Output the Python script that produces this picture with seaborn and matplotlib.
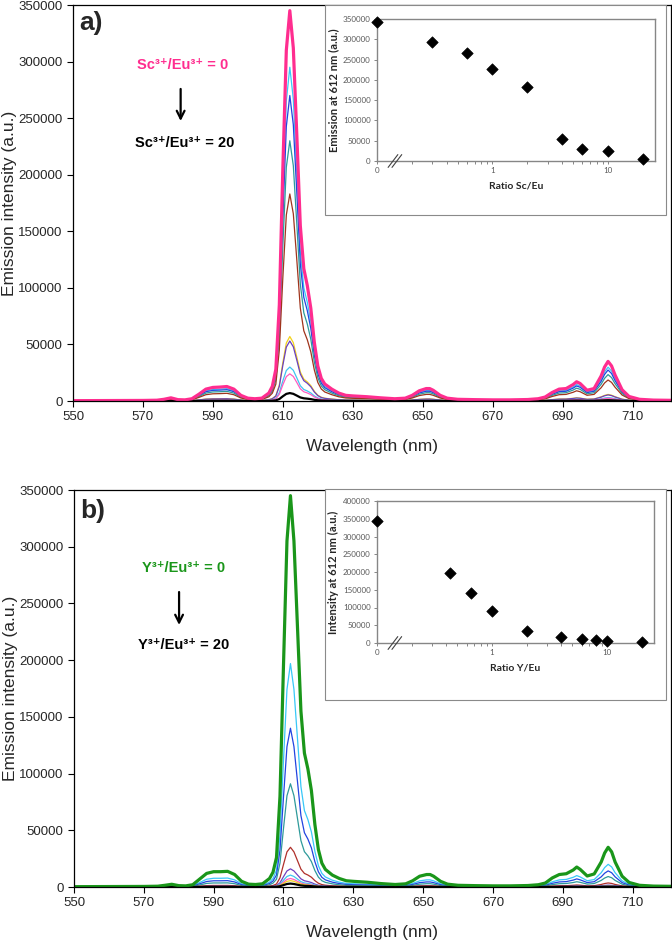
import numpy as np
import matplotlib
matplotlib.use('Agg')
import matplotlib.pyplot as plt
import matplotlib.ticker as mticker
from matplotlib.patches import Rectangle
import seaborn as sns

# wavelength grid (nm) on which the spectra were read
wl = [550, 560, 570, 574, 576, 578, 580, 582, 584, 586, 588, 590, 592, 594, 596, 598,
      600, 602, 604, 606, 607, 608, 609, 610, 611, 612, 613, 614, 615, 616, 617, 618,
      619, 620, 621, 622, 624, 626, 628, 630, 634, 638, 642, 645, 647, 649, 651, 652,
      653, 655, 657, 660, 665, 670, 675, 680, 683, 685, 687, 689, 691, 693, 694, 695,
      697, 699, 701, 702, 703, 704, 705, 707, 709, 712, 716, 721]

# Sc3+/Eu3+ = 0 spectrum (panel a, top curve)
sc_top = [300, 400, 500, 700, 1500, 2800, 1200, 1000, 2000, 6000, 10500, 12000, 12300, 12800, 10500, 5000,
          2500, 2000, 2500, 7000, 13000, 28000, 85000, 205000, 310000, 345000, 312000, 235000, 155000, 117000, 102000, 82000,
          52000, 31000, 20000, 15000, 10500, 7000, 5000, 4500, 3800, 2800, 2000, 2500, 5000, 9000, 11000, 11000,
          9500, 5000, 2500, 1500, 1200, 1000, 1000, 1300, 2000, 3500, 7500, 10500, 11000, 14500, 17000, 15500,
          9500, 11000, 22000, 30000, 35000, 31000, 23000, 10000, 4000, 1500, 800, 600]

# Y3+/Eu3+ = 0 spectrum (panel b, top curve)
y_top = [300, 400, 500, 700, 1500, 2400, 1200, 1000, 2000, 7000, 12000, 13500, 13500, 13800, 11000, 5000,
         2500, 2200, 2800, 7500, 13000, 26000, 80000, 195000, 305000, 345000, 305000, 230000, 155000, 118000, 104000, 85000,
         55000, 33000, 21000, 15500, 10500, 7500, 5500, 5000, 4200, 3000, 2200, 2800, 5500, 9500, 11000, 11000,
         9500, 5000, 2500, 1500, 1200, 1000, 1000, 1300, 2000, 3500, 8000, 11000, 11700, 15000, 17600, 15500,
         9700, 11500, 22000, 30000, 35000, 31000, 22000, 9500, 4000, 1500, 800, 600]

# peak heights at 612 nm of every curve
sc_peaks = [345000, 295000, 270000, 230000, 183000, 57000, 53000, 30000, 24000, 7000]
sc_colors = ['#FF2D8F', '#38C8F8', '#2244E0', '#2E9A9A', '#A0341C', '#F2D21B', '#6A40C0', '#40C4F0', '#FF5CC0', '#000000']
y_peaks = [345000, 197000, 140000, 91000, 35000, 16000, 10500, 7500, 5600, 3000]
y_colors = ['#1A961A', '#38C8F8', '#2244E0', '#2E9A9A', '#B0302A', '#7040C0', '#40C4F0', '#FF5CC0', '#F2D21B', '#000000']

# insets: emission at 612 nm vs ratio (ratio 0 drawn at the 0.1 axis origin)
sc_ratio = [0.1, 0.3, 0.6, 1, 2, 4, 6, 10, 20]
sc_em = [343000, 294000, 265500, 227500, 182400, 53500, 29600, 23900, 5700]
y_ratio = [0.1, 0.43, 0.65, 1, 2, 4, 6, 8, 10, 20]
y_em = [344400, 197600, 140300, 91400, 35000, 16100, 10400, 7600, 5600, 2800]

sns.set_style('ticks')
plt.rcParams['font.family'] = ['Liberation Sans', 'DejaVu Sans']

W, H = 672, 940
fig = plt.figure(figsize=(W / 100, H / 100), dpi=100)


def fx(px):
    return px / W


def fy(py):
    return 1 - py / H


def spectra(ax, top, peaks, colors):
    top = np.array(top, dtype=float)
    order = list(range(1, len(peaks) - 1)) + [len(peaks) - 1, 0]
    for i in order:
        lw = 2.3 if i == 0 else (1.6 if colors[i] == '#000000' else 0.9)
        sns.lineplot(x=wl, y=top * peaks[i] / top.max(), color=colors[i], lw=lw, ax=ax)
    ax.set_xlim(550, 721)
    ax.set_ylim(0, 350000)
    ax.set_xticks(np.arange(550, 711, 20))
    ax.set_yticks(np.arange(0, 350001, 50000))
    ax.yaxis.set_major_formatter(mticker.StrMethodFormatter('{x:.0f}'))
    ax.tick_params(labelsize=9.5, length=4, width=0.8, direction='out', color='black')
    for s in ax.spines.values():
        s.set_color('black')
        s.set_linewidth(0.9)
    ax.set_xlabel('Wavelength (nm)', fontsize=12.5, labelpad=11)
    ax.set_ylabel('Emission intensity (a.u.)', fontsize=12.5, labelpad=1)


def inset(ax, ratio, em, ymax, ylabel, xlabel):
    sns.scatterplot(x=ratio, y=em, marker='D', color='black', s=34, edgecolor='black',
                    ax=ax, clip_on=False, zorder=5)
    ax.set_xscale('log')
    ax.set_xlim(0.1, 25.6)
    ax.set_ylim(0, ymax)
    ax.set_yticks(np.arange(0, ymax + 1, 50000))
    ax.yaxis.set_major_formatter(mticker.StrMethodFormatter('{x:.0f}'))
    ax.xaxis.set_major_locator(mticker.FixedLocator([0.1, 1, 10]))
    ax.xaxis.set_major_formatter(mticker.FixedFormatter(['0', '1', '10']))
    ax.xaxis.set_minor_locator(mticker.LogLocator(base=10, subs=np.arange(2, 10)))
    ax.xaxis.set_minor_formatter(mticker.NullFormatter())
    ax.tick_params(which='both', labelsize=5.8, labelcolor='#595959', color='#868686',
                   length=2.5, width=0.7, direction='out', pad=2)
    for lab in ax.get_xticklabels() + ax.get_yticklabels():
        lab.set_family('Lato')
    for s in ax.spines.values():
        s.set_color('#868686')
        s.set_linewidth(1.0)
    ax.set_ylabel(ylabel, fontsize=8, fontweight='bold', family='Lato', labelpad=3)
    ax.set_xlabel(xlabel, fontsize=7.5, fontweight='bold', family='Lato', labelpad=5)
    # axis break marks
    for dx in (0.0, 0.014):
        ax.plot([0.040 + dx, 0.075 + dx], [-0.045, 0.045], transform=ax.transAxes,
                color='#404040', lw=0.8, clip_on=False, zorder=6)


lab_font = ['Liberation Sans', 'DejaVu Sans']

# ---------- panel a ----------
ax1 = fig.add_axes([fx(73), fy(401), fx(671 - 73), fy(5) - fy(401)])
spectra(ax1, sc_top, sc_peaks, sc_colors)
ax1.text(0.010, 0.985, 'a)', transform=ax1.transAxes, fontsize=19, fontweight='bold', va='top', ha='left')
ax1.text(0.184, 0.848, 'Sc³⁺/Eu³⁺ = 0', transform=ax1.transAxes, color='#FF2D8F',
         fontsize=10.5, fontweight='bold', ha='center', va='center', family=lab_font)
ax1.text(0.186, 0.652, 'Sc³⁺/Eu³⁺ = 20', transform=ax1.transAxes, color='black',
         fontsize=10.5, fontweight='bold', ha='center', va='center', family=lab_font)
ax1.annotate('', xy=(0.180, 0.700), xytext=(0.180, 0.795), xycoords='axes fraction',
             arrowprops=dict(arrowstyle='->', color='black', lw=1.6, mutation_scale=14))

fig.patches.append(Rectangle((fx(325), fy(215)), fx(666 - 325), fy(5) - fy(215),
                             transform=fig.transFigure, facecolor='white', edgecolor='#8a8a8a',
                             lw=0.8, zorder=2))
axi1 = fig.add_axes([fx(377), fy(161), fx(655 - 377), fy(19) - fy(161)])
axi1.set_zorder(3)
inset(axi1, sc_ratio, sc_em, 350000, 'Emission at 612 nm (a.u.)', 'Ratio Sc/Eu')

# ---------- panel b ----------
ax2 = fig.add_axes([fx(74), fy(887), fx(671 - 74), fy(490) - fy(887)])
spectra(ax2, y_top, y_peaks, y_colors)
ax2.text(0.010, 0.978, 'b)', transform=ax2.transAxes, fontsize=19, fontweight='bold', va='top', ha='left')
ax2.text(0.184, 0.803, 'Y³⁺/Eu³⁺ = 0', transform=ax2.transAxes, color='#1A961A',
         fontsize=10.5, fontweight='bold', ha='center', va='center', family=lab_font)
ax2.text(0.183, 0.610, 'Y³⁺/Eu³⁺ = 20', transform=ax2.transAxes, color='black',
         fontsize=10.5, fontweight='bold', ha='center', va='center', family=lab_font)
ax2.annotate('', xy=(0.176, 0.653), xytext=(0.176, 0.750), xycoords='axes fraction',
             arrowprops=dict(arrowstyle='->', color='black', lw=1.6, mutation_scale=14))

fig.patches.append(Rectangle((fx(325), fy(700)), fx(666 - 325), fy(489) - fy(700),
                             transform=fig.transFigure, facecolor='white', edgecolor='#8a8a8a',
                             lw=0.8, zorder=2))
axi2 = fig.add_axes([fx(377), fy(643), fx(654 - 377), fy(501) - fy(643)])
axi2.set_zorder(3)
inset(axi2, y_ratio, y_em, 400000, 'Intensity at 612 nm (a.u.)', 'Ratio Y/Eu')

fig.savefig('out.png', dpi=100)
